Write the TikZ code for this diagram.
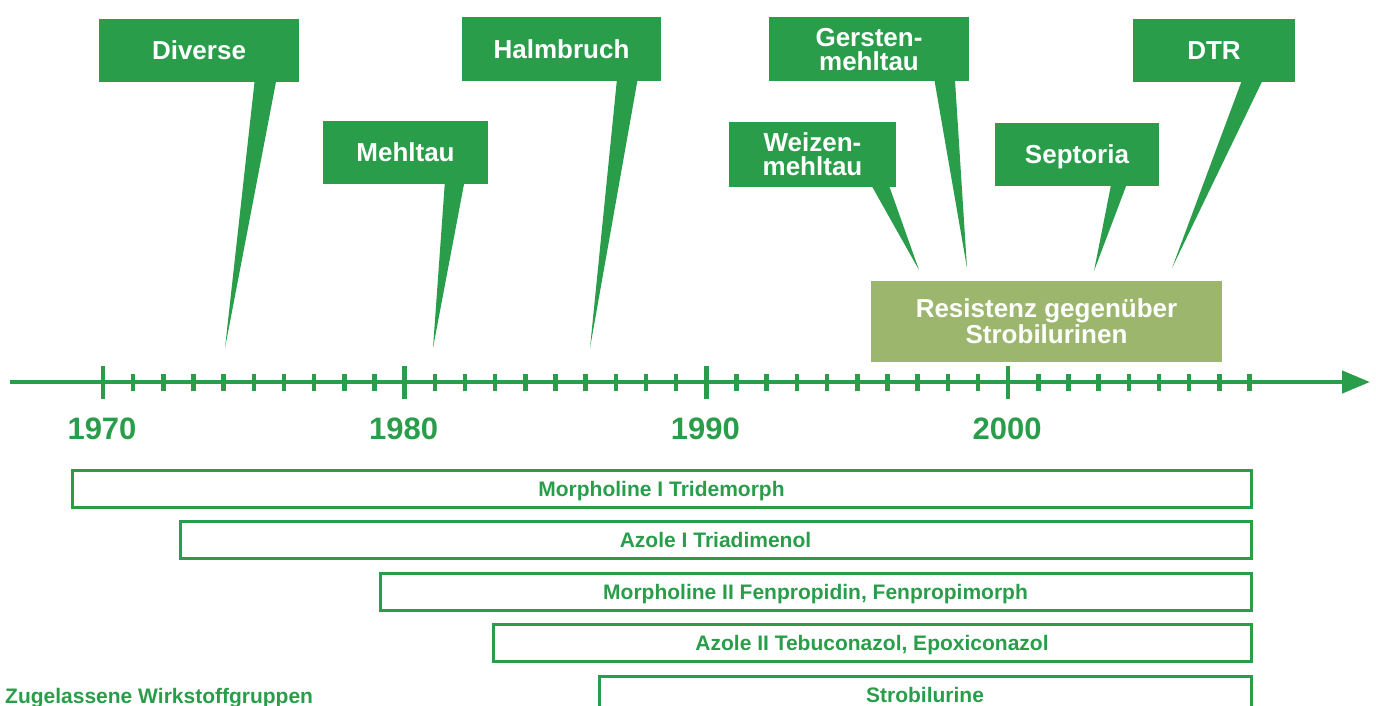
\documentclass[tikz,border=0pt]{standalone}
\usepackage{fontspec}
\setmainfont{Liberation Sans}
\usetikzlibrary{arrows.meta, backgrounds}
\definecolor{mGreen}{HTML}{2A9D4B}
\definecolor{mOlive}{HTML}{9CB66E}

\begin{document}
\begin{tikzpicture}[x=1pt, y=-1pt,
		bubble/.style={rectangle, fill=mGreen, inner sep=0pt, text=white, align=center,
			text depth=0pt, font=\fontsize{26}{24}\selectfont\bfseries},
		tail/.style={fill=mGreen},
		group/.style={rectangle, draw=mGreen, line width=3pt, inner sep=0pt, minimum height=37pt,
			text=mGreen, text depth=0pt, font=\fontsize{21}{24}\selectfont\bfseries},
		year/.style={text=mGreen, text depth=0pt, font=\fontsize{31}{34}\selectfont\bfseries},
		axisline/.style={draw=mGreen, line width=4.5pt, -{Triangle[length=28pt,width=22pt]}},
		tick/.style={draw=mGreen, line width=4.5pt}]
		\useasboundingbox (0,0) rectangle (1376,705);
		\clip (0,0) rectangle (1376,705);
		%-------------------------------------------------------------------------------
		% timeline
		%-------------------------------------------------------------------------------
		\coordinate (ax0) at (10,382);
		\coordinate (ax1) at (1370,382);
		\draw[axisline] (ax0) -- (ax1);
		% ticks, one per year
		\foreach \i [evaluate=\i as \xt using 103+30.17*\i] in {0,...,38}
			\draw[tick] (\xt,374) -- (\xt,391);
		\foreach \i [evaluate=\i as \xt using 103+30.17*\i] in {0,10,20,30}
			\draw[tick] (\xt,366) -- (\xt,399);
		% years
		\foreach \yr/\i in {1970/0, 1980/10, 1990/20, 2000/30}
			\node[year] (y\yr) at (102+30.17*\i,429) {\yr};
		
		%-------------------------------------------------------------------------------
		% callouts
		%-------------------------------------------------------------------------------
		\node[bubble, minimum width=200pt, minimum height=63pt] (div) 
			at (199,50.5) {Diverse};
		\node[bubble, minimum width=165pt, minimum height=63pt] (mehl) 
			at (405.5,152.5) {Mehltau};
		\node[bubble, minimum width=199pt, minimum height=64pt] (halm) 
			at (561.5,49) {Halmbruch};
		\node[bubble, minimum width=167pt, minimum height=65pt] (weiz) 
			at (812.5,154.5) {Weizen-\\mehltau};
		\node[bubble, minimum width=200pt, minimum height=64pt] (gerst) 
			at (869,49) {Gersten-\\mehltau};
		\node[bubble, minimum width=164pt, minimum height=63pt] (sept) 
			at (1077,154.5) {Septoria};
		\node[bubble, minimum width=162pt, minimum height=63pt] (dtr) 
			at (1214,50.5) {DTR};
		\node[bubble, fill=mOlive, minimum width=351pt, minimum height=81pt,
			font=\fontsize{26}{26}\selectfont\bfseries] (resist) 
			at (1046.5,321.5) {Resistenz gegenüber\\Strobilurinen};
		
		% tips of the callouts
		\coordinate (div-tip) at (225,348);
		\coordinate (mehl-tip) at (433,348);
		\coordinate (halm-tip) at (590,348);
		\coordinate (weiz-tip) at (919,270);
		\coordinate (gerst-tip) at (967,268);
		\coordinate (sept-tip) at (1094,271);
		\coordinate (dtr-tip) at (1172,268);
		\begin{scope}[on background layer]
			\foreach \nd/\xa/\xb in {div/258/282, mehl/447/470, halm/620/643, weiz/854/878,
					gerst/929/953, sept/1117/1138, dtr/1253/1277}
				\fill[tail] (\xa,0 |- \nd.center) -- (\xb,0 |- \nd.center) -- (\nd-tip) -- cycle;
		\end{scope}
		
		%-------------------------------------------------------------------------------
		% groups
		%-------------------------------------------------------------------------------
		\node[group, minimum width=1179pt] (morphI) at (661.5,488.5) {Morpholine I Tridemorph};
		\node[group, minimum width=1071pt] (azolI) at (715.5,539.5) {Azole I Triadimenol};
		\node[group, minimum width=871pt] (morphII) at (815.5,591.5) {Morpholine II Fenpropidin, Fenpropimorph};
		\node[group, minimum width=758pt] (azolII) at (872,642.5) {Azole II Tebuconazol, Epoxiconazol};
		\node[group, minimum width=652pt] (strobi) at (925,694.5) {Strobilurine};
		
		% labels
		\node[anchor=west, inner sep=0pt, text=mGreen, text depth=0pt,
			font=\fontsize{21}{24}\selectfont\bfseries] (zugel) 
			at (5,695.5) {Zugelassene Wirkstoffgruppen};
\end{tikzpicture}
\end{document}
